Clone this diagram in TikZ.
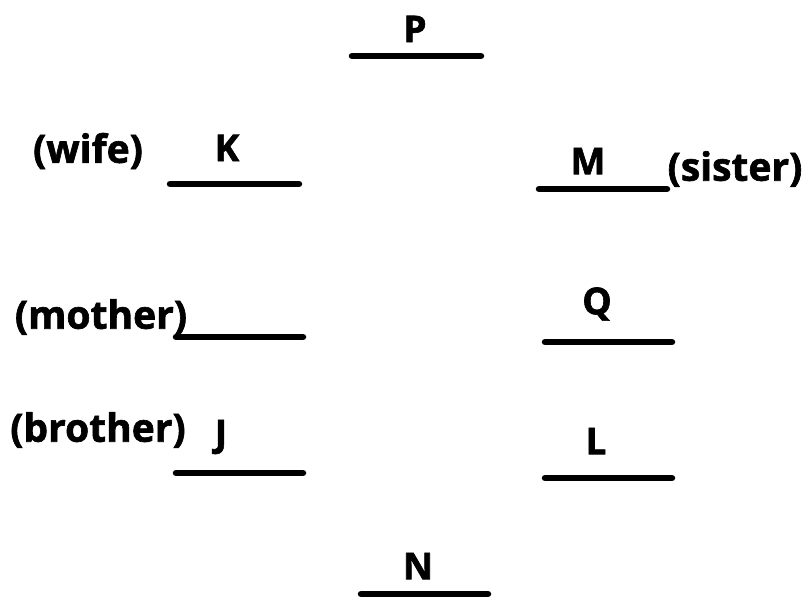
\documentclass[tikz,border=0pt]{standalone}
\usepackage{fontspec}
\setmainfont{Open Sans}[BoldFont={* Bold},BoldFeatures={FakeBold=1.6}]
\begin{document}
\begin{tikzpicture}[x=1pt,y=-1pt,
  blank/.style={line width=6.5pt,line cap=round},
  lbl/.style={font=\fontsize{39}{41}\selectfont\bfseries,inner sep=0pt},
  ltr/.style={font=\fontsize{37}{39}\selectfont\bfseries,inner sep=0pt}]
\useasboundingbox (0,0) rectangle (809,601);
% blanks
\draw[blank] (352,56) -- (481,56);
\draw[blank] (170,184) -- (299,184);
\draw[blank] (539,189) -- (667,189);
\draw[blank] (176,337) -- (303,337);
\draw[blank] (545,342) -- (672,342);
\draw[blank] (176,473) -- (303,473);
\draw[blank] (545,478) -- (672,478);
\draw[blank] (361,594) -- (488,594);
% letters
\node[ltr] (P) at (415,29) {P};
\node[ltr] (K) at (227,148) {K};
\node[ltr] (M) at (588,161) {M};
\node[ltr] (Q) at (597,304) {Q};
\node[ltr] (J) at (221,437) {J};
\node[ltr] (L) at (596,441) {L};
\node[ltr] (N) at (418,566) {N};
% relation labels
\node[lbl] (wife) at (88,151) {(wife)};
\node[lbl] (sister) at (735,169) {(sister)};
\node[lbl] (mother) at (101,317) {(mother)};
\node[lbl] (brother) at (98,430) {(brother)};
\end{tikzpicture}
\end{document}
